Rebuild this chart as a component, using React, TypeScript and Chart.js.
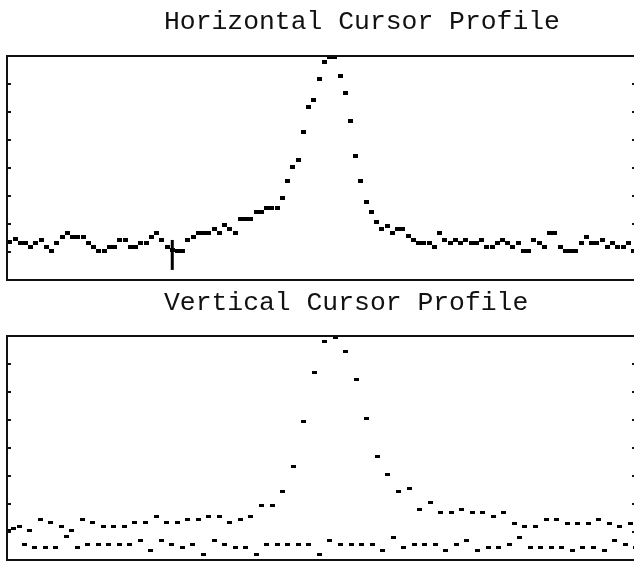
import React, { useEffect, useRef } from "react";
import { Chart, registerables } from "chart.js";

Chart.register(...registerables);

// ---- data ----
const Y_TICKS = [1, 2, 3, 4, 5, 6, 7];
const H_TITLE = "Horizontal Cursor Profile";
const V_TITLE = "Vertical Cursor Profile";

// horizontal profile samples (one per column step)
const hProfile = [
  1.37, 1.45, 1.31, 1.31, 1.17, 1.31, 1.43, 1.17, 1.04, 1.31,
  1.55, 1.69, 1.55, 1.55, 1.55, 1.31, 1.17, 1.04, 1.04, 1.17,
  1.17, 1.43, 1.43, 1.17, 1.17, 1.31, 1.31, 1.55, 1.69, 1.43,
  1.17, 1.07, 1.05, 1.05, 1.43, 1.55, 1.69, 1.69, 1.69, 1.81,
  1.69, 1.96, 1.81, 1.69, 2.18, 2.18, 2.18, 2.42, 2.42, 2.56,
  2.56, 2.56, 2.93, 3.55, 4.05, 4.3, 5.3, 6.17, 6.42, 7.17,
  7.8, 7.95, 7.95, 7.3, 6.67, 5.67, 4.43, 3.55, 2.8, 2.43,
  2.06, 1.81, 1.94, 1.69, 1.81, 1.81, 1.57, 1.43, 1.33, 1.33,
  1.33, 1.19, 1.69, 1.43, 1.31, 1.43, 1.31, 1.43, 1.31, 1.31,
  1.43, 1.19, 1.19, 1.31, 1.43, 1.31, 1.17, 1.31, 1.05, 1.05,
  1.43, 1.31, 1.17, 1.69, 1.69, 1.17, 1.05, 1.05, 1.05, 1.31,
  1.55, 1.31, 1.31, 1.43, 1.17, 1.31, 1.17, 1.17, 1.31, 1.05,
];

// cursor marker in the horizontal profile
const cursorX = [31, 31];
const cursorY = [0.36, 1.43];

// vertical profile: even rows (upper trace) and odd rows (lower trace)
const vUpper = [
  1.07, 1.19, 1.07, 1.45, 1.33, 1.19, 1.07, 1.45, 1.33, 1.19,
  1.19, 1.19, 1.33, 1.33, 1.57, 1.33, 1.33, 1.45, 1.45, 1.57,
  1.57, 1.33, 1.45, 1.57, 1.95, 1.95, 2.45, 3.33, 4.94, 6.69,
  7.81, 7.95, 7.43, 6.43, 5.06, 3.69, 3.07, 2.45, 2.57, 1.82,
  2.07, 1.69, 1.69, 1.82, 1.69, 1.69, 1.57, 1.69, 1.32, 1.19,
  1.19, 1.45, 1.45, 1.32, 1.32, 1.32, 1.45, 1.32, 1.19, 1.32,
];
const vLower = [
  1.13, 0.57, 0.45, 0.45, 0.45, 0.83, 0.45, 0.57, 0.57, 0.57,
  0.57, 0.57, 0.7, 0.33, 0.7, 0.57, 0.45, 0.57, 0.2, 0.7,
  0.57, 0.45, 0.45, 0.2, 0.57, 0.57, 0.57, 0.57, 0.57, 0.2,
  0.7, 0.57, 0.57, 0.57, 0.57, 0.33, 0.82, 0.45, 0.57, 0.57,
  0.57, 0.33, 0.57, 0.7, 0.33, 0.45, 0.45, 0.57, 0.82, 0.45,
  0.45, 0.45, 0.45, 0.33, 0.45, 0.45, 0.33, 0.7, 0.57, 0.45,
];

// ---- helpers ----
function makeDot(w: number, h: number) {
  const c = document.createElement("canvas");
  c.width = w;
  c.height = h;
  const g = c.getContext("2d")!;
  g.fillStyle = "#000";
  g.fillRect(0, 0, w, h);
  return c;
}

const framePlugin = {
  id: "frame",
  afterDatasetsDraw(chart: any, _args: any, opts: any) {
    const { ctx, chartArea: a, scales } = chart;
    ctx.save();
    ctx.strokeStyle = "#111";
    ctx.lineWidth = 2;
    ctx.strokeRect(a.left, a.top, a.right - a.left, a.bottom - a.top);
    ctx.beginPath();
    for (const t of opts.ticks) {
      const y = scales.y.getPixelForValue(t);
      ctx.moveTo(a.left, y);
      ctx.lineTo(a.left + 4, y);
      ctx.moveTo(a.right - 4, y);
      ctx.lineTo(a.right, y);
    }
    ctx.stroke();
    ctx.fillStyle = "#111";
    ctx.font = opts.font;
    ctx.textAlign = "left";
    ctx.textBaseline = "alphabetic";
    ctx.fillText(opts.title, opts.titleX, opts.titleY);
    ctx.restore();
  },
};

const TITLE_FONT = '26.4px "Liberation Mono", "Courier New", monospace';

function Panel(props: { build: () => any; height: number }) {
  const ref = useRef<HTMLCanvasElement>(null);
  useEffect(() => {
    const chart = new Chart(ref.current!, props.build());
    return () => chart.destroy();
  }, []);
  return (
    <canvas
      ref={ref}
      width={640}
      height={props.height}
      style={{ display: "block", width: 640, height: props.height }}
    />
  );
}

function baseOptions(padTop: number, padBottom: number, xMin: number, xMax: number, title: string, titleY: number) {
  return {
    animation: false,
    responsive: false,
    events: [],
    layout: { autoPadding: false, padding: { left: 7, right: 4, top: padTop, bottom: padBottom } },
    scales: {
      x: { type: "linear", min: xMin, max: xMax, display: false },
      y: { type: "linear", min: 0, max: 8, display: false },
    },
    plugins: {
      legend: { display: false },
      tooltip: { enabled: false },
      frame: { ticks: Y_TICKS, font: TITLE_FONT, title, titleX: 164, titleY },
    },
  };
}

function buildTop() {
  const dot = makeDot(5, 4);
  return {
    type: "scatter",
    data: {
      datasets: [
        {
          label: "Horizontal profile",
          data: hProfile.map((v, i) => ({ x: i, y: v })),
          pointStyle: dot,
          showLine: false,
          clip: 4,
        },
        {
          label: "Cursor",
          data: cursorX.map((x, i) => ({ x, y: cursorY[i] })),
          showLine: true,
          borderColor: "#000",
          borderWidth: 3,
          pointRadius: 0,
        },
      ],
    },
    options: baseOptions(56, 2, -0.53, 119.47, H_TITLE, 29),
    plugins: [framePlugin],
  };
}

function buildBottom() {
  const dot = makeDot(5, 3);
  return {
    type: "scatter",
    data: {
      datasets: [
        {
          label: "Even rows",
          data: vUpper.map((v, j) => ({ x: 2 * j, y: v })),
          pointStyle: dot,
          showLine: false,
          clip: 4,
        },
        {
          label: "Odd rows",
          data: vLower.map((v, j) => ({ x: 2 * j + 1, y: v })),
          pointStyle: dot,
          showLine: false,
          clip: 4,
        },
      ],
    },
    options: baseOptions(54, 1, -0.285, 119.07, V_TITLE, 28),
    plugins: [framePlugin],
  };
}

export default function App() {
  return (
    <div
      style={{
        position: "fixed",
        left: 0,
        top: 0,
        width: 634,
        height: 561,
        overflow: "hidden",
        background: "#fff",
      }}
    >
      <Panel build={buildTop} height={282} />
      <Panel build={buildBottom} height={279} />
    </div>
  );
}
